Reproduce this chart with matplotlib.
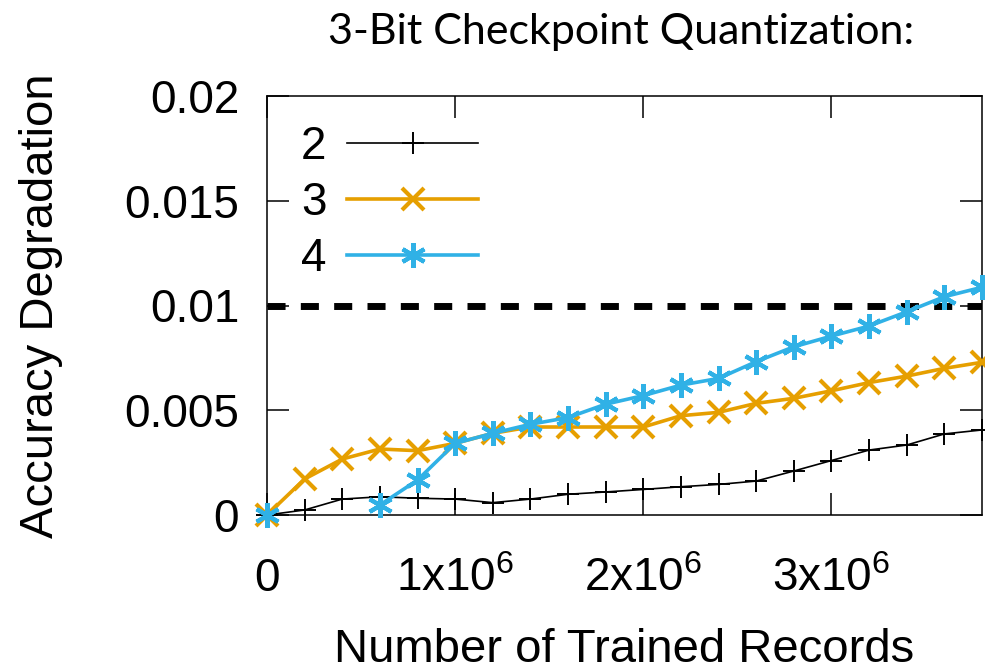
import numpy as np
import matplotlib.pyplot as plt

# ---------- DATA ----------
records = [0, 0.2e6, 0.4e6, 0.6e6, 0.8e6, 1.0e6, 1.2e6, 1.4e6, 1.6e6, 1.8e6,
           2.0e6, 2.2e6, 2.4e6, 2.6e6, 2.8e6, 3.0e6, 3.2e6, 3.4e6, 3.6e6, 3.8e6]

deg_2 = [0.0, 0.00024, 0.00076, 0.00087, 0.00080, 0.00076, 0.00059, 0.00076, 0.00099, 0.00110,
         0.00122, 0.00135, 0.00146, 0.00162, 0.00210, 0.00260, 0.00310, 0.00334, 0.00387, 0.00406]
deg_3 = [0.0, 0.00172, 0.00267, 0.00315, 0.00307, 0.00342, 0.00390, 0.00420, 0.00420, 0.00420,
         0.00420, 0.00474, 0.00490, 0.00533, 0.00557, 0.00593, 0.00632, 0.00663, 0.00700, 0.00729]
# no result for 4 at 0.2M / 0.4M
deg_4 = [0.0, np.nan, np.nan, 0.00048, 0.00167, 0.00342, 0.00390, 0.00433, 0.00465, 0.00529,
         0.00570, 0.00620, 0.00652, 0.00732, 0.00803, 0.00854, 0.00902, 0.00970, 0.01042, 0.01087]

threshold = 0.01
xticks = [0, 1e6, 2e6, 3e6]
xticklabels = ["0", "1x10$^6$", "2x10$^6$", "3x10$^6$"]
yticks = [0, 0.005, 0.01, 0.015, 0.02]
yticklabels = ["0", "0.005", "0.01", "0.015", "0.02"]

# ---------- STYLE ----------
plt.rcParams["font.family"] = ["Liberation Sans", "DejaVu Sans"]
plt.rcParams["mathtext.default"] = "regular"
FS = 33
FS_LABEL = 34
ORANGE = "#E69F00"
BLUE = "#30B1E6"

asterisk = (6, 2, 0)

fig = plt.figure(figsize=(9.85, 6.72), dpi=100)
ax = fig.add_axes([267 / 985, 1 - 515 / 672, (982 - 267) / 985, (515 - 96) / 672])

ax.axhline(threshold, color="black", lw=5, dashes=(2.6, 2.2), zorder=1)

ax.plot(records, deg_2, color="black", lw=1.2, marker="+", ms=16, mew=1.4,
        label="2", zorder=3, clip_on=False)
ax.plot(records, deg_3, color=ORANGE, lw=2.6, marker="x", ms=16, mew=3,
        label="3", zorder=4, clip_on=False)
ax.plot(records, deg_4, color=BLUE, lw=2.6, marker=asterisk, ms=18, mew=3,
        label="4", zorder=5, clip_on=False)

ax.set_xlim(0, 3.8e6)
ax.set_ylim(0, 0.02)
ax.set_xticks(xticks)
ax.set_xticklabels(xticklabels)
ax.set_yticks(yticks)
ax.set_yticklabels(yticklabels)

ax.tick_params(direction="in", length=16, width=1.1, labelsize=FS,
               top=True, right=True)
ax.tick_params(axis="y", pad=20)
ax.tick_params(axis="x", pad=30)
for s in ax.spines.values():
    s.set_linewidth(1.1)

ax.set_ylabel("Accuracy Degradation", fontsize=FS_LABEL, labelpad=44)
ax.set_xlabel("Number of Trained Records", fontsize=FS_LABEL, labelpad=20)

leg = ax.legend(loc="upper left", bbox_to_anchor=(0.022, 0.975), frameon=False,
                markerfirst=False, fontsize=FS, handlelength=2.85,
                handletextpad=0.45, labelspacing=0.26, borderaxespad=0)

fig.text(621 / 985, 1 - 32 / 672, "3-Bit Checkpoint Quantization:",
         family=["Lato", "DejaVu Sans"], fontsize=31, ha="center", va="center")

fig.savefig("out.png", dpi=100)
